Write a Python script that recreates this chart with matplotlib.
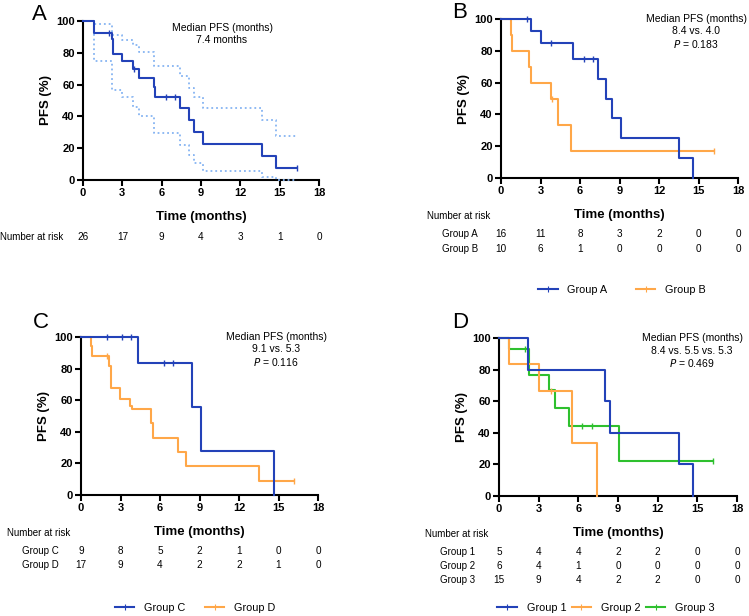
import numpy as np
import matplotlib.pyplot as plt
from matplotlib.lines import Line2D
from matplotlib import transforms

plt.rcParams['font.family'] = ['Liberation Sans', 'DejaVu Sans']

W, H = 749, 616

BLUE = '#2342b8'
ORANGE = '#ffa748'
GREEN = '#2ec02e'
CI_BLUE = '#86b4f2'

ticks_x = [0, 3, 6, 9, 12, 15, 18]
ticks_y = [0, 20, 40, 60, 80, 100]

# Panel A - all patients, with 95% CI
a_times = [0.84, 2.18, 2.3, 3.0, 3.8, 4.3, 5.4, 5.5, 7.4, 8.1, 8.45, 9.15, 13.65, 14.7]
a_surv = [92.3, 88.5, 79.0, 75.0, 69.8, 63.9, 58.2, 52.5, 45.0, 37.5, 30.0, 22.5, 15.0, 7.5]
a_end = 16.3
a_cens = [2.0, 3.9, 6.3, 7.0, 16.3]
a_ci_times = [0.84, 2.2, 3.0, 3.8, 4.3, 5.45, 7.4, 8.1, 8.45, 9.15, 13.65, 14.7]
a_ci_up = [98.3, 91.4, 88.2, 85.0, 80.3, 71.4, 65.1, 58.0, 52.5, 45.2, 37.8, 27.7]
a_ci_lo = [75.0, 56.7, 52.5, 46.0, 40.0, 29.4, 22.0, 15.8, 11.0, 5.9, 2.1, 0.0]
risk_all = [26, 17, 9, 4, 3, 1, 0]

# Panel B
b1_times = [2.25, 3.0, 5.5, 7.4, 8.0, 8.4, 9.1, 13.5, 14.6]
b1_surv = [92.3, 84.6, 75.0, 62.5, 50.0, 37.5, 25.0, 12.5, 0.0]
b1_end = 14.6
b1_cens = [2.0, 3.8, 6.3, 7.0]
b2_times = [0.73, 0.86, 2.15, 2.27, 3.77, 4.35, 5.3]
b2_surv = [90.0, 80.0, 70.0, 60.0, 50.0, 33.3, 16.7]
b2_end = 16.2
b2_cens = [3.9, 16.2]
risk_group_a = [16, 11, 8, 3, 2, 0, 0]
risk_group_b = [10, 6, 1, 0, 0, 0, 0]

# Panel C
c1_times = [4.3, 8.45, 9.1, 14.65]
c1_surv = [83.3, 55.6, 27.8, 0.0]
c1_end = 14.65
c1_cens = [2.0, 3.1, 3.8, 6.3, 7.0]
c2_times = [0.76, 0.86, 2.15, 2.27, 2.96, 3.72, 3.85, 5.3, 5.5, 7.4, 7.96, 13.5]
c2_surv = [94.1, 88.2, 81.7, 68.0, 61.0, 56.5, 54.4, 45.3, 36.3, 27.2, 18.2, 9.1]
c2_end = 16.2
c2_cens = [1.95, 16.2]
risk_group_c = [9, 8, 5, 2, 1, 0, 0]
risk_group_d = [17, 9, 4, 2, 2, 1, 0]

# Panel D
d1_times = [2.2, 8.0, 8.4, 13.6, 14.65]
d1_surv = [80.0, 60.0, 40.0, 20.0, 0.0]
d1_end = 14.65
d1_cens = []
d2_times = [0.73, 3.0, 5.5, 7.43]
d2_surv = [83.3, 66.7, 33.3, 0.0]
d2_end = 7.43
d2_cens = [3.9]
d3_times = [0.76, 2.27, 3.8, 4.27, 5.3, 9.1]
d3_surv = [93.3, 76.4, 67.0, 55.8, 44.6, 22.3]
d3_end = 16.2
d3_cens = [1.95, 6.25, 7.0, 16.2]
risk_group_1 = [5, 4, 4, 2, 2, 0, 0]
risk_group_2 = [6, 4, 1, 0, 0, 0, 0]
risk_group_3 = [15, 9, 4, 2, 2, 0, 0]


def fx(px):
    return px / W


def fy(py):
    return 1 - py / H


def km(ax, times, surv, end, cens, color, ls='-', lw=1.5):
    x = [0] + list(times) + [end]
    y = [100] + list(surv) + [surv[-1]]
    ax.step(x, y, where='post', color=color, lw=lw, ls=ls, clip_on=False, zorder=3)
    if cens:
        vals = [([100] + list(surv))[np.searchsorted(times, c, side='right')] for c in cens]
        ax.plot(cens, vals, ls='none', marker='|', ms=5, mew=1.0, color=color,
                clip_on=False, zorder=3)


def style(ax):
    ax.set_xlim(0, 18)
    ax.set_ylim(0, 100)
    ax.set_xticks(ticks_x)
    ax.set_yticks(ticks_y)
    for s in ['top', 'right']:
        ax.spines[s].set_visible(False)
    for s in ['left', 'bottom']:
        ax.spines[s].set_linewidth(1.5)
    ax.tick_params(width=1.5, length=4, labelsize=8, pad=2)
    for lbl in ax.get_xticklabels() + ax.get_yticklabels():
        lbl.set_fontweight('bold')
    ax.set_ylabel('PFS (%)', fontsize=9.5, fontweight='bold', labelpad=3)
    ax.set_xlabel('Time (months)', fontsize=9.5, fontweight='bold', labelpad=9)


def risk_row(ax, py, values):
    tr = transforms.blended_transform_factory(ax.transData, fig.transFigure)
    for t, v in zip(ticks_x, values):
        ax.text(t, fy(py), str(v), transform=tr, ha='center', va='center', fontsize=7.2)


fig = plt.figure(figsize=(W / 100, H / 100), dpi=100)

axA = fig.add_axes([fx(83), fy(180), fx(236), 159 / H])
axB = fig.add_axes([fx(501), fy(178), fx(237), 159 / H])
axC = fig.add_axes([fx(81), fy(495), fx(237), 158 / H])
axD = fig.add_axes([fx(499), fy(496), fx(238), 158 / H])

# A
km(axA, a_ci_times, a_ci_up, a_end, [], CI_BLUE, ls=':', lw=1.3)
km(axA, a_ci_times, a_ci_lo, a_end, [], CI_BLUE, ls=':', lw=1.3)
km(axA, a_times, a_surv, a_end, a_cens, BLUE)
style(axA)

# B
km(axB, b2_times, b2_surv, b2_end, b2_cens, ORANGE)
km(axB, b1_times, b1_surv, b1_end, b1_cens, BLUE)
style(axB)

# C
km(axC, c2_times, c2_surv, c2_end, c2_cens, ORANGE)
km(axC, c1_times, c1_surv, c1_end, c1_cens, BLUE)
style(axC)

# D
km(axD, d3_times, d3_surv, d3_end, d3_cens, GREEN)
km(axD, d2_times, d2_surv, d2_end, d2_cens, ORANGE)
km(axD, d1_times, d1_surv, d1_end, d1_cens, BLUE)
style(axD)

# panel letters
for letter, x, y in [('A', 32, 14), ('B', 452, 12), ('C', 33, 323), ('D', 452, 322)]:
    fig.text(fx(x), fy(y), letter, fontsize=16, va='center', ha='left')

# median annotations
fs_med = 7.5
fig.text(fx(222), fy(28), 'Median PFS (months)', ha='center', va='center', fontsize=fs_med)
fig.text(fx(222), fy(40), '7.4 months', ha='center', va='center', fontsize=fs_med)

fig.text(fx(696), fy(19), 'Median PFS (months)', ha='center', va='center', fontsize=fs_med)
fig.text(fx(696), fy(31), '8.4 vs. 4.0', ha='center', va='center', fontsize=fs_med)
fig.text(fx(696), fy(44), '$\\it{P}$ = 0.183', ha='center', va='center', fontsize=fs_med)

fig.text(fx(276), fy(337), 'Median PFS (months)', ha='center', va='center', fontsize=fs_med)
fig.text(fx(276), fy(349), '9.1 vs. 5.3', ha='center', va='center', fontsize=fs_med)
fig.text(fx(276), fy(362), '$\\it{P}$ = 0.116', ha='center', va='center', fontsize=fs_med)

fig.text(fx(692), fy(338), 'Median PFS (months)', ha='center', va='center', fontsize=fs_med)
fig.text(fx(692), fy(351), '8.4 vs. 5.5 vs. 5.3', ha='center', va='center', fontsize=fs_med)
fig.text(fx(692), fy(363), '$\\it{P}$ = 0.469', ha='center', va='center', fontsize=fs_med)

# number at risk tables
fs_r = 7
fig.text(fx(0), fy(237), 'Number at risk', ha='left', va='center', fontsize=fs_r)
risk_row(axA, 237, risk_all)

fig.text(fx(427), fy(216), 'Number at risk', ha='left', va='center', fontsize=fs_r)
fig.text(fx(442), fy(234), 'Group A', ha='left', va='center', fontsize=fs_r)
fig.text(fx(442), fy(249), 'Group B', ha='left', va='center', fontsize=fs_r)
risk_row(axB, 234, risk_group_a)
risk_row(axB, 249, risk_group_b)

fig.text(fx(7), fy(533), 'Number at risk', ha='left', va='center', fontsize=fs_r)
fig.text(fx(22), fy(551), 'Group C', ha='left', va='center', fontsize=fs_r)
fig.text(fx(22), fy(565), 'Group D', ha='left', va='center', fontsize=fs_r)
risk_row(axC, 551, risk_group_c)
risk_row(axC, 565, risk_group_d)

fig.text(fx(425), fy(534), 'Number at risk', ha='left', va='center', fontsize=fs_r)
fig.text(fx(440), fy(552), 'Group 1', ha='left', va='center', fontsize=fs_r)
fig.text(fx(440), fy(566), 'Group 2', ha='left', va='center', fontsize=fs_r)
fig.text(fx(440), fy(580), 'Group 3', ha='left', va='center', fontsize=fs_r)
risk_row(axD, 552, risk_group_1)
risk_row(axD, 566, risk_group_2)
risk_row(axD, 580, risk_group_3)


# legends
def handle(color):
    return Line2D([], [], color=color, lw=1.5, marker='|', ms=4, mew=0.8)


leg_kw = dict(loc='center', frameon=False, fontsize=7.8, handlelength=1.8,
              handletextpad=0.9, borderpad=0, numpoints=1)
fig.legend([handle(BLUE), handle(ORANGE)], ['Group A', 'Group B'], ncol=2,
           bbox_to_anchor=(fx(622), fy(290)), columnspacing=2.6, **leg_kw)
fig.legend([handle(BLUE), handle(ORANGE)], ['Group C', 'Group D'], ncol=2,
           bbox_to_anchor=(fx(195), fy(608)), columnspacing=1.8, **leg_kw)
fig.legend([handle(BLUE), handle(ORANGE), handle(GREEN)], ['Group 1', 'Group 2', 'Group 3'],
           ncol=3, bbox_to_anchor=(fx(606), fy(608)), columnspacing=0.5, **leg_kw)

fig.savefig('out.png', dpi=100)
